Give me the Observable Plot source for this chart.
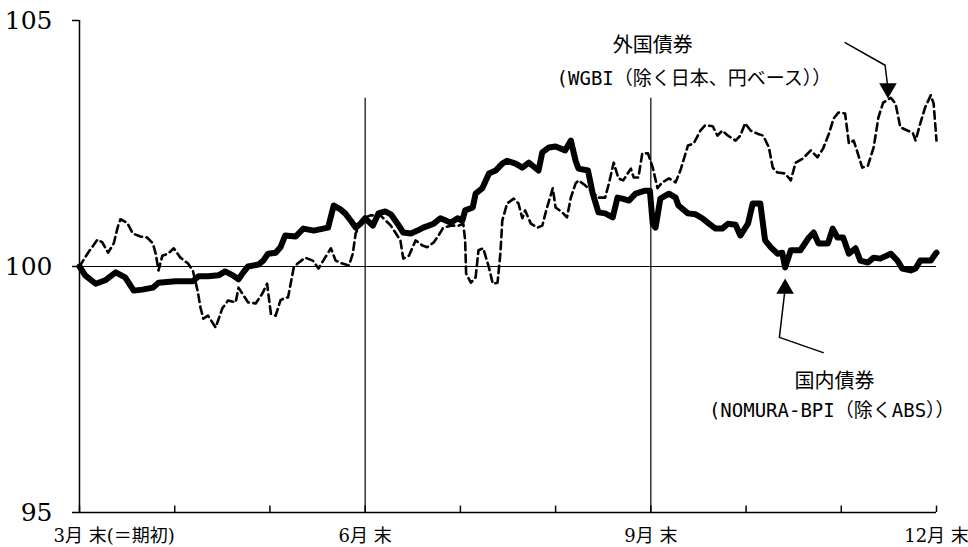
<!DOCTYPE html>
<html>
<head>
<meta charset="utf-8">
<script src="https://cdn.jsdelivr.net/npm/d3@7"></script>
<script src="https://cdn.jsdelivr.net/npm/@observablehq/plot@0.6"></script>
<style>
  html, body { margin: 0; padding: 0; background: #fff; }
  #chart svg { display: block; }
</style>
</head>
<body>
<div id="chart"></div>
<script>
// Months elapsed since end of March (0 = 3月末, 9 = 12月末)
const monthTicks = [0, 1, 2, 3, 4, 5, 6, 7, 8, 9];
const firstTick = [0];
const firstLabel = "3月 末(＝期初)";
const otherTicks = [3, 6, 9];
const otherLabels = ["6月 末", "9月 末", "12月 末"];
const yTicks = [95, 100, 105];

// 国内債券 (NOMURA-BPI（除くABS）)
const domMonths = [0.00,0.06,0.17,0.27,0.38,0.48,0.57,0.66,0.77,0.83,1.01,1.19,1.25,1.35,1.46,1.53,1.61,1.67,1.72,1.77,1.88,1.93,1.98,2.06,2.11,2.16,2.27,2.35,2.46,2.56,2.61,2.67,2.74,2.79,2.85,2.90,2.95,3.00,3.08,3.14,3.21,3.27,3.34,3.40,3.48,3.55,3.61,3.72,3.79,3.90,3.97,4.02,4.05,4.13,4.16,4.23,4.30,4.37,4.44,4.49,4.58,4.65,4.72,4.82,4.86,4.93,5.00,5.10,5.16,5.21,5.24,5.34,5.39,5.45,5.52,5.60,5.65,5.70,5.77,5.84,5.94,5.99,6.02,6.05,6.10,6.19,6.26,6.29,6.39,6.47,6.54,6.61,6.68,6.75,6.81,6.89,6.94,7.02,7.07,7.15,7.20,7.26,7.33,7.38,7.41,7.47,7.57,7.66,7.71,7.76,7.86,7.91,7.96,8.02,8.08,8.15,8.20,8.28,8.34,8.41,8.52,8.59,8.64,8.73,8.78,8.83,8.94,8.99,9.00];
const domValues = [100.00,99.82,99.65,99.72,99.88,99.78,99.51,99.53,99.57,99.67,99.70,99.70,99.80,99.80,99.82,99.90,99.82,99.74,99.88,100.00,100.04,100.12,100.26,100.28,100.39,100.63,100.61,100.77,100.73,100.77,100.79,101.24,101.16,101.08,100.93,100.79,100.87,100.98,100.83,101.08,101.12,101.06,100.87,100.69,100.67,100.73,100.79,100.87,100.98,100.89,100.98,100.93,101.14,101.20,101.48,101.59,101.89,101.95,102.09,102.15,102.09,102.01,102.11,101.95,102.32,102.42,102.44,102.36,102.56,102.15,101.99,101.95,101.48,101.10,101.08,101.00,101.40,101.38,101.34,101.48,101.54,101.54,100.87,100.79,101.38,101.48,101.40,101.24,101.08,101.06,100.98,100.87,100.77,100.77,100.87,100.85,100.63,100.87,101.28,101.28,100.53,100.39,100.26,100.28,99.98,100.33,100.33,100.59,100.69,100.47,100.47,100.77,100.59,100.59,100.26,100.37,100.12,100.08,100.18,100.16,100.26,100.12,99.96,99.92,99.96,100.12,100.12,100.26,100.28];

// 外国債券 (WGBI（除く日本、円ベース）)
const forMonths = [0.00,0.09,0.19,0.24,0.30,0.36,0.40,0.43,0.50,0.56,0.64,0.71,0.77,0.80,0.83,0.87,0.93,0.99,1.06,1.14,1.19,1.24,1.27,1.30,1.35,1.43,1.50,1.56,1.64,1.67,1.71,1.77,1.85,1.92,1.97,2.01,2.06,2.11,2.16,2.19,2.25,2.29,2.37,2.45,2.51,2.56,2.64,2.69,2.76,2.83,2.87,2.90,2.93,2.98,3.06,3.16,3.27,3.37,3.40,3.46,3.53,3.60,3.65,3.72,3.77,3.82,3.90,3.98,4.03,4.05,4.06,4.11,4.16,4.19,4.24,4.30,4.34,4.39,4.42,4.44,4.49,4.56,4.61,4.65,4.68,4.74,4.81,4.86,4.91,4.97,5.00,5.07,5.12,5.16,5.21,5.24,5.31,5.37,5.45,5.52,5.56,5.61,5.66,5.71,5.79,5.82,5.87,5.91,5.97,6.02,6.07,6.12,6.19,6.26,6.31,6.39,6.45,6.52,6.57,6.65,6.70,6.75,6.81,6.89,6.94,6.99,7.05,7.12,7.18,7.24,7.28,7.33,7.41,7.47,7.52,7.60,7.68,7.75,7.81,7.87,7.92,7.97,8.04,8.08,8.13,8.17,8.22,8.28,8.34,8.39,8.44,8.52,8.57,8.62,8.70,8.75,8.78,8.83,8.88,8.94,8.97,9.00];
const forValues = [100.00,100.28,100.55,100.49,100.28,100.47,100.79,100.96,100.89,100.67,100.61,100.59,100.47,100.26,99.92,100.22,100.26,100.37,100.18,100.06,99.92,99.51,99.17,98.94,99.00,98.76,99.15,99.31,99.27,99.57,99.45,99.27,99.25,99.45,99.65,99.04,99.00,99.31,99.37,99.37,99.98,100.06,100.18,100.12,99.96,100.12,100.37,100.12,100.06,100.02,100.26,100.67,100.79,100.98,101.04,101.04,100.83,100.53,100.16,100.22,100.53,100.43,100.39,100.49,100.63,100.79,100.83,100.83,100.87,100.53,99.86,99.67,99.78,100.33,100.37,99.98,99.65,99.67,100.26,100.93,101.28,101.38,101.28,100.98,101.14,100.87,100.79,100.83,101.20,101.59,101.20,101.10,101.00,101.40,101.69,101.75,101.65,101.54,101.40,101.40,101.69,102.11,101.79,101.75,101.99,101.81,101.81,102.30,102.30,102.01,101.59,101.71,101.79,101.71,101.95,102.46,102.50,102.76,102.87,102.85,102.66,102.76,102.66,102.56,102.66,102.91,102.76,102.70,102.66,102.42,102.01,101.91,101.89,101.75,102.11,102.20,102.36,102.22,102.40,102.70,103.01,103.13,103.11,102.50,102.56,102.32,102.01,102.05,102.42,103.03,103.33,103.43,103.31,102.83,102.76,102.72,102.56,102.91,103.23,103.48,103.31,102.56];

// Annotation callouts (in data units: month, index value)
const forLabel = ["外国債券", "(WGBI（除く日本、円ベース））"];
const domLabel = ["国内債券", "(NOMURA-BPI（除くABS））"];
const forArrowM = [8.04, 8.46, 8.49];
const forArrowV = [104.55, 104.09, 103.62];
const domArrowM = [7.81, 7.35, 7.41];
const domArrowV = [98.25, 98.56, 99.55];

const dom = domMonths.map((m, i) => ({m, v: domValues[i]}));
const fgn = forMonths.map((m, i) => ({m, v: forValues[i]}));
const fArrow = forArrowM.map((m, i) => ({m, v: forArrowV[i]}));
const dArrow = domArrowM.map((m, i) => ({m, v: domArrowV[i]}));

const serif = "'DejaVu Serif', 'Liberation Serif', 'Noto Sans CJK JP', serif";
const gothic = "'DejaVu Sans Mono', 'Noto Sans CJK JP', monospace";

const chart = Plot.plot({
  width: 968,
  height: 547,
  marginLeft: 79,
  marginRight: 32,
  marginTop: 20,
  marginBottom: 35,
  style: {fontFamily: serif, background: "#fff", color: "#000", overflow: "visible"},
  x: {domain: [0, 9], axis: null},
  y: {domain: [95, 105], axis: null},
  marks: [
    Plot.axisY({ticks: yTicks, label: null, tickSize: 7, tickPadding: 20, fontSize: 25, fontFamily: serif, stroke: "#000", strokeWidth: 1.5, tickFormat: d => String(d)}),
    // axes lines
    Plot.ruleX([0], {y1: 95, y2: 105, stroke: "#000", strokeWidth: 1.5}),
    Plot.ruleY([95], {x1: 0, x2: 9, stroke: "#000", strokeWidth: 1.5}),
    // monthly inward ticks
    Plot.ruleX(monthTicks, {x: d => d, y1: 95, y2: 95.13, stroke: "#000", strokeWidth: 1.5}),
    // reference lines
    Plot.ruleY([100], {x1: 0, x2: 9, stroke: "#000", strokeWidth: 1.2}),
    Plot.ruleX([3, 6], {y1: 95, y2: 103.42, stroke: "#000", strokeWidth: 1.2}),
    // series
    Plot.line(fgn, {x: "m", y: "v", stroke: "#000", strokeWidth: 2.6, strokeDasharray: "7.5,4.5", strokeLinejoin: "round"}),
    Plot.line(dom, {x: "m", y: "v", stroke: "#000", strokeWidth: 6, strokeLinejoin: "round", strokeLinecap: "round"}),
    // x labels
    Plot.text(firstTick, {x: d => d, y: 95, text: () => firstLabel, dy: 24, dx: -26, fontSize: 18, fontFamily: serif, textAnchor: "start"}),
    Plot.text(otherTicks, {x: d => d, y: 95, text: (d, i) => otherLabels[i], dy: 24, fontSize: 18, fontFamily: serif, textAnchor: "middle"}),
    // callout arrows
    Plot.line(fArrow, {x: "m", y: "v", stroke: "#000", strokeWidth: 1.5}),
    Plot.dot([fArrow[2]], {x: "m", y: "v", symbol: "triangle", r: 6.5, fill: "#000", stroke: null, rotate: 180}),
    Plot.line(dArrow, {x: "m", y: "v", stroke: "#000", strokeWidth: 1.5}),
    Plot.dot([dArrow[2]], {x: "m", y: "v", symbol: "triangle", r: 6.5, fill: "#000", stroke: null}),
    // callout texts
    Plot.text([forLabel[0]], {x: 6.02, y: 104.49, text: d => d, fontSize: 20, fontFamily: gothic, textAnchor: "middle"}),
    Plot.text([forLabel[1]], {x: 5.01, y: 103.82, text: d => d, fontSize: 19, fontFamily: gothic, textAnchor: "start"}),
    Plot.text([domLabel[0]], {x: 7.93, y: 97.66, text: d => d, fontSize: 20, fontFamily: gothic, textAnchor: "middle"}),
    Plot.text([domLabel[1]], {x: 6.61, y: 97.07, text: d => d, fontSize: 19, fontFamily: gothic, textAnchor: "start"})
  ]
});
document.getElementById("chart").appendChild(chart);
</script>
</body>
</html>
